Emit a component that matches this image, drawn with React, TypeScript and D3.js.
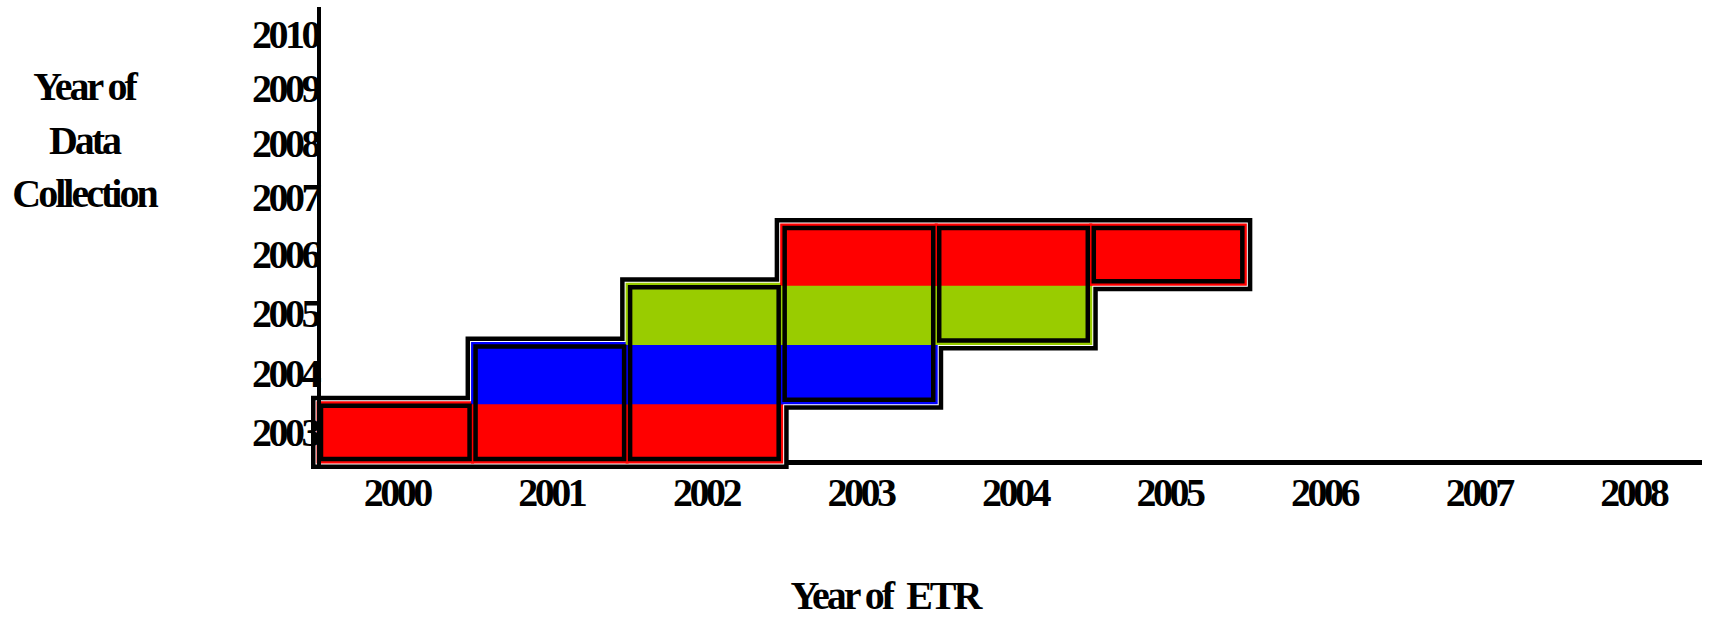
import * as d3 from "d3";

// ETR years along the bottom, collection years up the side
const etrYears = [2000, 2001, 2002, 2003, 2004, 2005, 2006, 2007, 2008];
const collectionYears = [2003, 2004, 2005, 2006, 2007, 2008, 2009, 2010];

// each collection year covers a run of ETR years
const rowYears = [2003, 2004, 2005, 2006];
const rowStart = [2000, 2001, 2002, 2003];
const rowEnd = [2002, 2003, 2004, 2005];
const rowColors = ["#ff0000", "#0000ff", "#99cc00", "#ff0000"];

const width = 1709;
const height = 617;
const font = "'Liberation Serif', 'Times New Roman', serif";

export default function App() {
  const x = d3.scaleBand<number>()
    .domain(etrYears)
    .range([318, 1709])
    .paddingInner(0)
    .paddingOuter(0);

  // upper rows are a bit tighter than the filled ones
  const y = d3.scaleLinear()
    .domain([2002.5, 2006.5, 2010.5])
    .range([462, 225, 7]);

  const bw = x.bandwidth();

  // cells
  const cells: { etr: number; row: number; color: string }[] = [];
  rowYears.forEach((r, i) => {
    for (let e = rowStart[i]; e <= rowEnd[i]; e++) {
      cells.push({ etr: e, row: r, color: rowColors[i] });
    }
  });

  // column extents
  const cols = d3.rollups(
    cells,
    v => ({ lo: d3.min(v, d => d.row)!, hi: d3.max(v, d => d.row)! }),
    d => d.etr
  ).sort((a, b) => a[0] - b[0]);

  // staircase outline around every cell
  const pts: [number, number][] = [];
  pts.push([x(cols[0][0])!, y(cols[0][1].lo - 0.5)]);
  cols.forEach(([e, c]) => {
    pts.push([x(e)!, y(c.hi + 0.5)]);
    pts.push([x(e)! + bw, y(c.hi + 0.5)]);
  });
  cols.slice().reverse().forEach(([e, c]) => {
    pts.push([x(e)! + bw, y(c.lo - 0.5)]);
    pts.push([x(e)!, y(c.lo - 0.5)]);
  });
  const outline = d3.line()(pts) + "Z";

  const ex = 1.5;

  return (
    <svg width={width} height={height} style={{ position: "absolute", left: 0, top: 0, background: "#fff" }}>
      {/* x axis */}
      <line x1={318} x2={1702} y1={462.5} y2={462.5} stroke="#000" strokeWidth={5} />

      <path d={outline} fill="none" stroke="#000" strokeWidth={14} strokeLinejoin="miter" />
      <path d={outline} fill="none" stroke="#fff" strokeWidth={5} strokeLinejoin="miter" />

      {cells.map((c, i) => (
        <rect
          key={i}
          x={x(c.etr)! - ex}
          y={y(c.row + 0.5) - ex}
          width={bw + 2 * ex}
          height={y(c.row - 0.5) - y(c.row + 0.5) + 2 * ex}
          fill={c.color}
        />
      ))}

      {cols.map(([e, c]) => (
        <rect
          key={e}
          x={x(e)! + 3}
          y={y(c.hi + 0.5) + 3}
          width={bw - 6}
          height={y(c.lo - 0.5) - y(c.hi + 0.5) - 6}
          fill="none"
          stroke="#000"
          strokeWidth={4.5}
        />
      ))}

      {/* y axis */}
      <line x1={319} x2={319} y1={7} y2={465} stroke="#000" strokeWidth={4} />

      <g fontFamily={font} fontWeight="bold" fontSize={40} letterSpacing={-3.5} fill="#000">
        {collectionYears.map(v => (
          <text key={v} x={318} y={y(v) + 13.5} textAnchor="end">{v}</text>
        ))}
        {etrYears.map(v => (
          <text key={v} x={x(v)! + bw / 2 + 1.5} y={506} textAnchor="middle">{v}</text>
        ))}
      </g>

      <g fontFamily={font} fontWeight="bold" fontSize={40} letterSpacing={-3} fill="#000" textAnchor="middle">
        <text x={84} y={100}>Year of</text>
        <text x={84} y={154}>Data</text>
        <text x={84} y={207}>Collection</text>
        <text x={885} y={609} style={{ whiteSpace: "pre" }}>Year of  ETR</text>
      </g>
    </svg>
  );
}
